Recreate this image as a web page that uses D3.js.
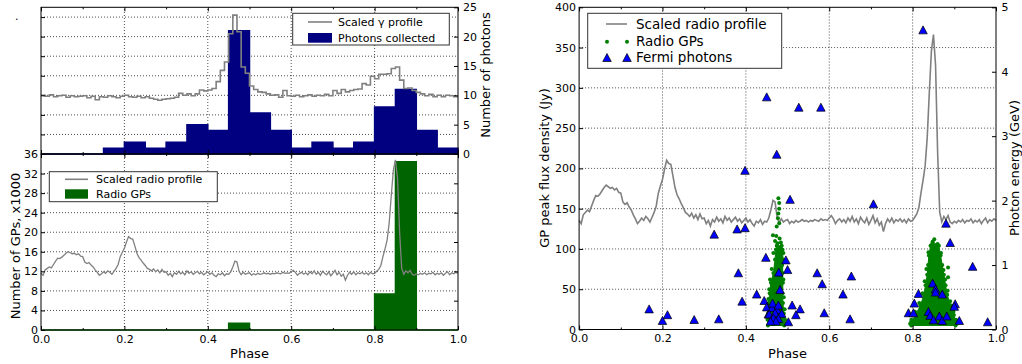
<!DOCTYPE html>
<html>
<head>
<meta charset="utf-8">
<script src="https://cdn.jsdelivr.net/npm/d3@7"></script>
<style>
  body { margin: 0; background: #fff; }
  text { font-family: "DejaVu Sans", sans-serif; fill: #000; }
</style>
</head>
<body>
<svg id="chart" width="1022" height="364"></svg>
<script>
// ---- data ----
const histBins = d3.range(0, 1, 0.05); // left edges of 0.05-wide phase bins
const photonCounts = [0, 0, 0, 1, 2, 1, 2, 5, 4, 21, 7, 4, 1, 2, 1, 2, 8, 11, 4, 1];
const gpCounts = [0, 0, 0, 0, 0, 0, 0, 0, 0, 1.37, 0, 0, 0, 0, 0, 0, 7.36, 34.4, 0, 0]; // x1000

// scaled gamma profile, 100 bins (hidden left axis of top panel)
const gammaProfile = [
  12.0, 11.8, 12.1, 11.7, 11.9, 12.0, 11.6, 11.9, 11.7, 11.8,
  11.9, 11.5, 11.8, 11.1, 11.7, 11.6, 11.9, 11.7, 11.5, 11.8,
  12.0, 11.7, 11.6, 11.8, 11.5, 11.7, 11.4, 11.2, 11.0, 11.2,
  11.3, 11.4, 11.6, 12.4, 12.0, 12.3, 11.9, 12.3, 13.1, 12.9,
  13.1, 13.4, 14.8, 17.1, 18.8, 24.6, 28.4, 25.0, 17.8, 16.5,
  13.9, 13.2, 12.7, 12.6, 12.3, 12.0, 12.1, 11.6, 13.0, 11.9,
  11.8, 12.0, 11.7, 11.9, 12.1, 11.8, 12.0, 11.9, 12.2, 11.9,
  13.0, 12.4, 13.2, 12.7, 13.0, 13.2, 13.3, 14.4, 14.1, 15.9,
  15.4, 16.3, 16.3, 16.4, 17.5, 17.8, 15.1, 13.4, 13.5, 13.0,
  12.6, 12.3, 11.9, 12.2, 11.7, 12.0, 11.7, 12.0, 11.9, 11.7
];

// scaled radio profile, phase step 0.005 (units of the GP axis, x1000)
const radioProfile = [
  11.6, 11.2, 12.3, 12.6, 12.9, 12.7, 13.4, 14.1, 14.7, 14.6,
  14.9, 15.3, 15.7, 16.0, 15.8, 15.6, 15.7, 15.4, 15.6, 15.1,
  15.0, 13.9, 13.6, 13.8, 13.3, 12.9, 12.3, 11.8, 11.2, 11.5,
  11.9, 11.6, 12.1, 11.8, 11.4, 12.0, 12.6, 13.4, 15.0, 15.9,
  16.7, 18.0, 19.1, 18.7, 18.6, 17.2, 15.7, 14.8, 14.3, 13.7,
  13.2, 12.6, 12.4, 12.1, 12.5, 11.9, 12.3, 11.7, 12.4, 11.8,
  11.9, 11.2, 11.6, 10.9, 11.7, 11.4, 12.0, 11.5, 11.8, 11.3,
  12.1, 11.6, 11.9, 11.4, 11.7, 12.0, 11.5, 11.8, 11.3, 11.6,
  11.9, 11.4, 11.7, 11.2, 10.9, 11.5, 11.3, 11.7, 11.1, 11.5,
  11.4, 11.9, 12.9, 14.1, 13.9, 12.0, 11.3, 11.8, 11.4, 11.6,
  11.7, 11.2, 11.5, 11.3, 11.6, 11.4, 11.5, 11.7, 11.5, 11.6,
  11.4, 11.6, 11.5, 11.7, 11.6, 11.5, 11.8, 11.6, 11.7, 11.6,
  11.9, 12.2, 11.8, 11.2, 11.6, 11.8, 11.4, 11.7, 11.3, 11.9,
  11.5, 12.1, 11.4, 11.8, 11.2, 12.0, 11.6, 11.3, 11.9, 11.1,
  11.6, 12.2, 11.3, 11.8, 11.0, 11.4, 10.2, 11.2, 11.8, 11.4,
  11.9, 11.3, 11.7, 11.5, 11.8, 11.4, 11.7, 11.3, 11.8, 11.5,
  11.6, 12.0, 12.4, 13.2, 15.0, 16.6, 18.4, 21.9, 27.5, 32.7,
  34.8, 31.0, 20.0, 12.6, 11.4, 12.1, 11.7, 12.2, 11.4, 11.2,
  11.5, 11.3, 11.6, 11.4, 11.7, 11.3, 11.6, 11.5, 11.8, 11.3,
  11.6, 11.4, 11.7, 11.2, 11.6, 11.9, 11.3, 11.7, 11.5, 11.8,
  11.6
];
// same profile rescaled to Jy in the right panel
const radioToJy = v => 20 + 9.95 * v;

// dense giant-pulse clouds: outline [phase, Jy]
const gpCloud1 = [
  [0.453, 5], [0.453, 20], [0.455, 33], [0.457, 45], [0.460, 58], [0.466, 70],
  [0.470, 87], [0.472, 99], [0.474, 104], [0.486, 104], [0.488, 99], [0.489, 87],
  [0.488, 70], [0.489, 58], [0.488, 45], [0.489, 33], [0.491, 20], [0.493, 8], [0.492, 5]
];
const gpCloud2 = [
  [0.797, 5], [0.797, 10], [0.807, 18], [0.819, 30], [0.827, 43], [0.831, 55],
  [0.835, 68], [0.837, 80], [0.839, 92], [0.843, 104], [0.848, 108], [0.856, 105],
  [0.863, 104], [0.867, 92], [0.871, 80], [0.875, 68], [0.879, 55], [0.883, 43],
  [0.891, 30], [0.899, 18], [0.903, 10], [0.903, 5]
];
// individual giant pulses outside / on the edge of the clouds
const gpDots = [
  [0.478, 163], [0.480, 157], [0.480, 150], [0.478, 144], [0.477, 138], [0.480, 132],
  [0.474, 128], [0.465, 117], [0.473, 116], [0.481, 113], [0.476, 107], [0.466, 95],
  [0.470, 110], [0.484, 108], [0.462, 75], [0.458, 62], [0.456, 50], [0.454, 38],
  [0.452, 25], [0.452, 12], [0.490, 62], [0.491, 40], [0.493, 25], [0.494, 12],
  [0.487, 80], [0.490, 95],
  [0.848, 109], [0.852, 112], [0.845, 105], [0.860, 106], [0.885, 77], [0.885, 65],
  [0.838, 96], [0.868, 95], [0.833, 75], [0.874, 74], [0.829, 60], [0.878, 62],
  [0.824, 45], [0.884, 48], [0.816, 33], [0.890, 35], [0.806, 22], [0.898, 22],
  [0.797, 12], [0.904, 12], [0.794, 7], [0.906, 7]
];

// Fermi photons [phase, GeV]
const photons = [
  [0.168, 0.32], [0.200, 0.14], [0.212, 0.23], [0.276, 0.155], [0.335, 0.165],
  [0.324, 1.48], [0.379, 1.56], [0.398, 1.58], [0.382, 0.88], [0.391, 0.44],
  [0.426, 0.55], [0.448, 1.12], [0.444, 0.45], [0.450, 0.35], [0.454, 0.24],
  [0.398, 2.47], [0.450, 3.61], [0.474, 2.72], [0.527, 3.45], [0.580, 3.45],
  [0.506, 2.02], [0.706, 1.95], [0.825, 4.65],
  [0.463, 0.34], [0.475, 0.31], [0.456, 0.24], [0.470, 0.26], [0.486, 0.25],
  [0.466, 0.18], [0.478, 0.17], [0.472, 0.13], [0.459, 0.13], [0.464, 0.41],
  [0.478, 0.38], [0.482, 0.62], [0.479, 0.89], [0.496, 1.08], [0.500, 0.93],
  [0.511, 0.38], [0.530, 0.32], [0.520, 0.23], [0.502, 0.12], [0.588, 0.26],
  [0.571, 0.88], [0.583, 0.71], [0.653, 0.83], [0.633, 0.55], [0.650, 0.165],
  [0.880, 1.65], [0.890, 1.35], [0.944, 0.98], [0.848, 0.72], [0.855, 0.63],
  [0.855, 0.58], [0.871, 0.55], [0.814, 0.56], [0.804, 0.41], [0.902, 0.40],
  [0.900, 0.36], [0.790, 0.26], [0.802, 0.26], [0.838, 0.28], [0.842, 0.22],
  [0.850, 0.15], [0.864, 0.21], [0.871, 0.14], [0.882, 0.21], [0.912, 0.14],
  [0.980, 0.12]
];

const phaseTicks = [0, 0.2, 0.4, 0.6, 0.8, 1.0];
const phaseMinor = [0.1, 0.3, 0.5, 0.7, 0.9];

// ---- chart ----
const svg = d3.select('#chart');
svg.append('rect').attr('width', 1022).attr('height', 364).attr('fill', '#fff');

const xL = d3.scaleLinear().domain([0, 1]).range([41, 458]);
const yGamma = d3.scaleLinear().domain([0, 30]).range([154, 7.3]);
const yPhot = d3.scaleLinear().domain([0, 25]).range([154, 7.3]);
const yGP = d3.scaleLinear().domain([0, 36]).range([330, 154]);
const yGPTwin = d3.scaleLinear().domain([0, 30]).range([330, 154]);
const xR = d3.scaleLinear().domain([0, 1]).range([579.1, 996]);
const yJy = d3.scaleLinear().domain([0, 400]).range([329.5, 7.3]);
const yGeV = d3.scaleLinear().domain([0, 5]).range([329.5, 7.3]);

const GRAY = '#808080';
const NAVY = '#000080';
const DKGREEN = '#006400';
const GREEN = '#008000';
const intFmt = d3.format('d');

function grid(x, y, xt, yt) {
  const g = svg.append('g')
    .attr('stroke', '#000').attr('stroke-width', 0.7).attr('stroke-dasharray', '1,2');
  g.selectAll('.gx').data(xt).enter().append('line')
    .attr('x1', d => x(d)).attr('x2', d => x(d))
    .attr('y1', y.range()[0]).attr('y2', y.range()[1]);
  g.selectAll('.gy').data(yt).enter().append('line')
    .attr('y1', d => y(d)).attr('y2', d => y(d))
    .attr('x1', x.range()[0]).attr('x2', x.range()[1]);
}

function frame(x, y) {
  const [x0, x1] = x.range(), [y0, y1] = y.range();
  svg.append('rect')
    .attr('x', x0).attr('y', y1).attr('width', x1 - x0).attr('height', y0 - y1)
    .attr('fill', 'none').attr('stroke', '#000').attr('stroke-width', 1);
}

// draw an axis with inward ticks and no domain line
function axis(gen, tx, ty) {
  const g = svg.append('g').attr('transform', `translate(${tx},${ty})`).call(gen);
  g.select('.domain').remove();
  g.attr('font-size', 11).attr('font-family', '"DejaVu Sans", sans-serif');
  g.selectAll('line').attr('stroke', '#000');
  return g;
}

function phaseAxes(x, yBottom, yTop, labels) {
  const fmt = d3.format('.1f');
  axis(d3.axisBottom(x).tickValues(phaseTicks).tickSize(-4).tickPadding(5)
    .tickFormat(labels ? fmt : ''), 0, yBottom);
  axis(d3.axisBottom(x).tickValues(phaseMinor).tickSize(-2).tickFormat(''), 0, yBottom);
  axis(d3.axisTop(x).tickValues(phaseTicks).tickSize(-4).tickFormat(''), 0, yTop);
  axis(d3.axisTop(x).tickValues(phaseMinor).tickSize(-2).tickFormat(''), 0, yTop);
}

// ===== left panel, top: photons =====
grid(xL, yGamma, [0.2, 0.4, 0.6, 0.8], [4, 8, 12, 16, 20, 24, 28]);

const photArea = d3.area().curve(d3.curveStepAfter)
  .x(d => xL(d[0])).y0(yPhot(0)).y1(d => yPhot(d[1]));
const photPts = histBins.map((b, i) => [b, photonCounts[i]]);
photPts.push([1, photonCounts[photonCounts.length - 1]]);
svg.append('path').datum(photPts).attr('d', photArea)
  .attr('fill', NAVY).attr('stroke', NAVY).attr('stroke-width', 1.5);

const gammaPts = gammaProfile.map((v, i) => [i / 100, v]);
gammaPts.push([1, gammaProfile[gammaProfile.length - 1]]);
svg.append('path').datum(gammaPts)
  .attr('d', d3.line().curve(d3.curveStepAfter).x(d => xL(d[0])).y(d => yGamma(d[1])))
  .attr('fill', 'none').attr('stroke', GRAY).attr('stroke-width', 1.6);

axis(d3.axisLeft(yGamma).tickValues([4, 8, 12, 16, 20, 24, 28]).tickSize(-4).tickFormat(''), 41, 0);
axis(d3.axisRight(yPhot).tickValues([0, 5, 10, 15, 20, 25]).tickSize(-4).tickPadding(5)
  .tickFormat(intFmt), 458, 0);
phaseAxes(xL, 154, 7.3, false);
frame(xL, yGamma);

// ===== left panel, bottom: radio GPs =====
grid(xL, yGP, [0.2, 0.4, 0.6, 0.8], d3.range(4, 36, 4));

const gpArea = d3.area().curve(d3.curveStepAfter)
  .x(d => xL(d[0])).y0(yGP(0)).y1(d => yGP(d[1]));
const gpPts = histBins.map((b, i) => [b, gpCounts[i]]);
gpPts.push([1, gpCounts[gpCounts.length - 1]]);
svg.append('path').datum(gpPts).attr('d', gpArea)
  .attr('fill', DKGREEN).attr('stroke', DKGREEN).attr('stroke-width', 1.5);

svg.append('path').datum(radioProfile)
  .attr('d', d3.line().x((d, i) => xL(i / 200)).y(d => yGP(d)))
  .attr('fill', 'none').attr('stroke', GRAY).attr('stroke-width', 1.3);

axis(d3.axisLeft(yGP).tickValues(d3.range(0, 37, 4)).tickSize(-4).tickPadding(3)
  .tickFormat(intFmt), 41, 0);
axis(d3.axisRight(yGPTwin).tickValues([5, 10, 15, 20, 25]).tickSize(-4).tickFormat(''), 458, 0);
phaseAxes(xL, 330, 154, true);
frame(xL, yGP);

// left panel labels
svg.append('text').attr('x', 15).attr('y', 20).attr('font-size', 11).text('.');
svg.append('text').attr('x', 249.5).attr('y', 358).attr('text-anchor', 'middle')
  .attr('font-size', 13).text('Phase');
svg.append('text').attr('transform', 'translate(19.5,246) rotate(-90)')
  .attr('text-anchor', 'middle').attr('font-size', 13).text('Number of GPs, x1000');
svg.append('text').attr('transform', 'translate(490,75) rotate(-90)')
  .attr('text-anchor', 'middle').attr('font-size', 13).text('Number of photons');

// legend, top left
const lg1 = svg.append('g');
lg1.append('rect').attr('x', 292.7).attr('y', 13.3).attr('width', 156.6).attr('height', 31.7)
  .attr('fill', '#fff').attr('stroke', '#333').attr('stroke-width', 1);
lg1.append('line').attr('x1', 308).attr('x2', 332).attr('y1', 22).attr('y2', 22)
  .attr('stroke', GRAY).attr('stroke-width', 1.6);
lg1.append('text').attr('x', 338).attr('y', 22).attr('dy', '0.35em').attr('font-size', 11)
  .text('Scaled γ profile');
lg1.append('rect').attr('x', 308).attr('y', 33).attr('width', 24).attr('height', 9.7).attr('fill', NAVY);
lg1.append('text').attr('x', 338).attr('y', 38).attr('dy', '0.35em').attr('font-size', 11)
  .text('Photons collected');

// legend, bottom left
const lg2 = svg.append('g');
lg2.append('rect').attr('x', 49.3).attr('y', 171.7).attr('width', 168).attr('height', 30)
  .attr('fill', '#fff').attr('stroke', '#333').attr('stroke-width', 1);
lg2.append('line').attr('x1', 65).attr('x2', 88).attr('y1', 179.3).attr('y2', 179.3)
  .attr('stroke', GRAY).attr('stroke-width', 1.6);
lg2.append('text').attr('x', 96).attr('y', 179.3).attr('dy', '0.35em').attr('font-size', 11)
  .text('Scaled radio profile');
lg2.append('rect').attr('x', 65).attr('y', 189.3).attr('width', 23).attr('height', 9.4).attr('fill', DKGREEN);
lg2.append('text').attr('x', 96).attr('y', 194).attr('dy', '0.35em').attr('font-size', 11)
  .text('Radio GPs');

// ===== right panel =====
grid(xR, yJy, [0.2, 0.4, 0.6, 0.8], d3.range(50, 400, 50));

svg.append('path').datum(radioProfile)
  .attr('d', d3.line().x((d, i) => xR(i / 200)).y(d => yJy(radioToJy(d))))
  .attr('fill', 'none').attr('stroke', GRAY).attr('stroke-width', 1.6);

const cloudLine = d3.line().x(d => xR(d[0])).y(d => yJy(d[1]));
[gpCloud1, gpCloud2].forEach(c => {
  svg.append('path').datum(c).attr('d', cloudLine(c) + 'Z')
    .attr('fill', GREEN).attr('stroke', GREEN).attr('stroke-width', 1).attr('stroke-linejoin', 'round');
});
svg.append('g').selectAll('circle').data(gpCloud1.concat(gpCloud2, gpDots)).enter().append('circle')
  .attr('cx', d => xR(d[0])).attr('cy', d => yJy(d[1])).attr('r', 2)
  .attr('fill', GREEN);

const tri = (w, h) => `M0,${-h / 2}L${w / 2},${h / 2}L${-w / 2},${h / 2}Z`;
svg.append('g').selectAll('path').data(photons).enter().append('path')
  .attr('transform', d => `translate(${xR(d[0])},${yGeV(d[1])})`)
  .attr('d', tri(8.5, 8))
  .attr('fill', '#0000ff').attr('stroke', '#000').attr('stroke-width', 0.7);

axis(d3.axisLeft(yJy).tickValues(d3.range(0, 401, 50)).tickSize(-4).tickPadding(3)
  .tickFormat(intFmt), 579.1, 0);
axis(d3.axisRight(yGeV).tickValues([0, 1, 2, 3, 4, 5]).tickSize(-4).tickPadding(5.5)
  .tickFormat(intFmt), 996, 0);
phaseAxes(xR, 329.5, 7.3, true);
frame(xR, yJy);

svg.append('text').attr('x', 787.5).attr('y', 358).attr('text-anchor', 'middle')
  .attr('font-size', 13).text('Phase');
svg.append('text').attr('transform', 'translate(548.5,168) rotate(-90)')
  .attr('text-anchor', 'middle').attr('font-size', 13).text('GP peak flux density (Jy)');
svg.append('text').attr('transform', 'translate(1018.5,168) rotate(-90)')
  .attr('text-anchor', 'middle').attr('font-size', 13).text('Photon energy (GeV)');

// legend, right
const lg3 = svg.append('g');
lg3.append('rect').attr('x', 587.7).attr('y', 13.3).attr('width', 194).attr('height', 55)
  .attr('fill', '#fff').attr('stroke', '#333').attr('stroke-width', 1);
lg3.append('line').attr('x1', 606).attr('x2', 627).attr('y1', 24).attr('y2', 24)
  .attr('stroke', GRAY).attr('stroke-width', 1.6);
lg3.append('text').attr('x', 636).attr('y', 24).attr('dy', '0.35em').attr('font-size', 13.5)
  .text('Scaled radio profile');
lg3.selectAll('circle').data([607, 627]).enter().append('circle')
  .attr('cx', d => d).attr('cy', 41.7).attr('r', 2).attr('fill', GREEN);
lg3.append('text').attr('x', 636).attr('y', 41).attr('dy', '0.35em').attr('font-size', 13.5)
  .text('Radio GPs');
lg3.selectAll('.lt').data([607, 627]).enter().append('path')
  .attr('transform', d => `translate(${d},57.5)`).attr('d', tri(8.5, 8))
  .attr('fill', '#0000ff').attr('stroke', '#000').attr('stroke-width', 0.7);
lg3.append('text').attr('x', 636).attr('y', 57).attr('dy', '0.35em').attr('font-size', 13.5)
  .text('Fermi photons');
</script>
</body>
</html>
